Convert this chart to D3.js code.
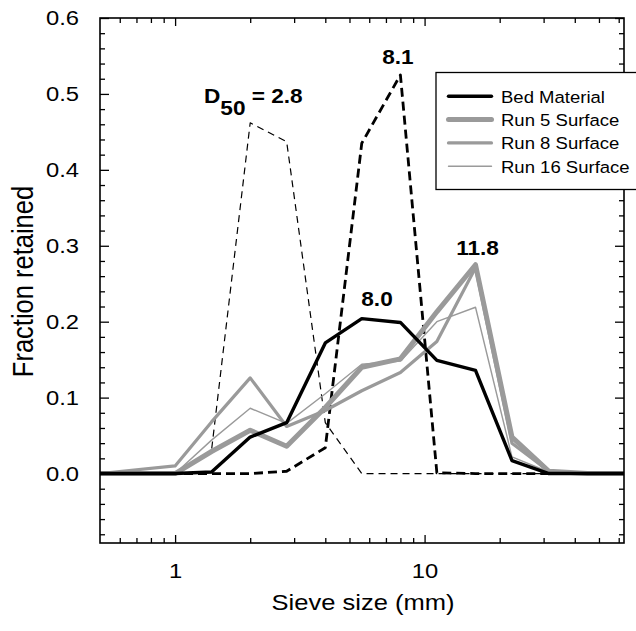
<!DOCTYPE html>
<html>
<head>
<meta charset="utf-8">
<script src="https://cdn.jsdelivr.net/npm/d3@7"></script>
<style>
  html, body { margin: 0; padding: 0; background: #fff; }
  svg { display: block; font-family: "Liberation Sans", Arial, Helvetica, sans-serif; }
</style>
</head>
<body>
<svg id="chart" width="636" height="631"></svg>
<script>
// Sieve sizes (mm) at which the fraction retained was measured
const sieveSizes = [0.5, 1, 1.4, 2, 2.8, 4, 5.6, 8, 11.2, 16, 22.4, 31.5, 45, 63];

// Fraction retained on each sieve
const bedMaterial = [0, 0, 0.002, 0.048, 0.067, 0.172, 0.204, 0.199, 0.149, 0.136, 0.017, 0.0, 0, 0];
const run5Surface = [0, 0, 0.029, 0.057, 0.036, 0.087, 0.140, 0.151, 0.213, 0.275, 0.048, 0.003, 0, 0];
const run8Surface = [0, 0.010, 0.068, 0.126, 0.062, 0.083, 0.109, 0.133, 0.174, 0.271, 0.040, 0.003, 0, 0];
const run16Surface = [0, 0, 0.044, 0.086, 0.066, 0.105, 0.144, 0.148, 0.200, 0.219, 0.022, 0.002, 0, 0];

// Feed mixtures shown as dashed reference curves
const fineFeed = [0, 0, 0.031, 0.462, 0.437, 0.067, 0, 0, 0, 0, 0, 0, 0, 0];
const coarseFeed = [0, 0, 0, 0, 0.003, 0.034, 0.435, 0.525, 0.001, 0, 0, 0, 0, 0];

// Legend entries and tick values
const legendLabels = ["Bed Material", "Run 5 Surface", "Run 8 Surface", "Run 16 Surface"];
const yTickValues = [0.0, 0.1, 0.2, 0.3, 0.4, 0.5, 0.6];
const xTickLabels = [1, 10];

// Median grain size (D50, mm) written above each distribution
const d50Fine = "2.8";
const d50Coarse = "8.1";
const d50Bed = "8.0";
const d50Run5 = "11.8";

const svg = d3.select("#chart");
const plot = { left: 100, right: 624, top: 18, bottom: 543 };
const WIDEN = 1.16; // horizontal widening applied to all lettering

const x = d3.scaleLog().domain([0.5, 63]).range([plot.left, plot.right]);
const y = d3.scaleLinear().domain([-0.0915, 0.6]).range([plot.bottom, plot.top]);

const clipId = "plot-clip";
svg.append("defs").append("clipPath").attr("id", clipId)
  .append("rect")
  .attr("x", plot.left).attr("y", plot.top)
  .attr("width", plot.right - plot.left).attr("height", plot.bottom - plot.top);

const line = d3.line()
  .x(d => x(d[0]))
  .y(d => y(d[1]));

const grey = "#9a9a9a";
const series = [
  { values: fineFeed, color: "#000", width: 1.2, dash: "7,5" },
  { values: coarseFeed, color: "#000", width: 2.8, dash: "9,5" },
  { values: run16Surface, color: grey, width: 1.4 },
  { values: run8Surface, color: grey, width: 3.2 },
  { values: run5Surface, color: grey, width: 5 },
  { values: bedMaterial, color: "#000", width: 3.4 }
];

const lines = svg.append("g").attr("clip-path", `url(#${clipId})`);
series.forEach(s => {
  lines.append("path")
    .datum(sieveSizes.map((sz, i) => [sz, s.values[i]]))
    .attr("d", line)
    .attr("fill", "none")
    .attr("stroke", s.color)
    .attr("stroke-width", s.width)
    .attr("stroke-linejoin", "round")
    .attr("stroke-dasharray", s.dash || null);
});

// Frame with inward ticks on all four sides
const axisG = svg.append("g");
const majorY = yTickValues;
const minorY = d3.range(-0.08, 0.6001, 0.02).filter(v => Math.abs(Math.round(v * 10) - v * 10) > 1e-6);
const majorX = xTickLabels;
const minorX = [0.6, 0.7, 0.8, 0.9, 2, 3, 4, 5, 6, 7, 8, 9, 20, 30, 40, 50, 60];

const yAxisL = d3.axisLeft(y).tickValues(majorY).tickSizeInner(-9).tickSizeOuter(0).tickPadding(21)
  .tickFormat(d3.format(".1f"));
const yAxisR = d3.axisRight(y).tickValues(majorY).tickSizeInner(-9).tickSizeOuter(0).tickFormat("");
const yMinorL = d3.axisLeft(y).tickValues(minorY).tickSizeInner(-5).tickSizeOuter(0).tickFormat("");
const yMinorR = d3.axisRight(y).tickValues(minorY).tickSizeInner(-5).tickSizeOuter(0).tickFormat("");
const xAxisB = d3.axisBottom(x).tickValues(majorX).tickSizeInner(-8).tickSizeOuter(0).tickPadding(20)
  .tickFormat(d3.format("d"));
const xAxisT = d3.axisTop(x).tickValues(majorX).tickSizeInner(-8).tickSizeOuter(0).tickFormat("");
const xMinorB = d3.axisBottom(x).tickValues(minorX).tickSizeInner(-5).tickSizeOuter(0).tickFormat("");
const xMinorT = d3.axisTop(x).tickValues(minorX).tickSizeInner(-5).tickSizeOuter(0).tickFormat("");

function place(axis, tx, ty) {
  const g = axisG.append("g").attr("transform", `translate(${tx},${ty})`).call(axis);
  g.select(".domain").remove();
  g.selectAll("line").attr("stroke", "#000").attr("stroke-width", 1.3);
  g.selectAll("text")
    .attr("fill", "#000").attr("font-size", 20.5)
    .attr("font-family", "'Liberation Sans', Arial, sans-serif")
    .attr("x", function () { return (+d3.select(this).attr("x") || 0) / WIDEN; })
    .attr("transform", `scale(${WIDEN},1)`);
  return g;
}
place(yAxisL, plot.left, 0);
place(yMinorL, plot.left, 0);
place(yAxisR, plot.right, 0);
place(yMinorR, plot.right, 0);
place(xAxisB, 0, plot.bottom);
place(xMinorB, 0, plot.bottom);
place(xAxisT, 0, plot.top);
place(xMinorT, 0, plot.top);

axisG.append("rect")
  .attr("x", plot.left).attr("y", plot.top)
  .attr("width", plot.right - plot.left).attr("height", plot.bottom - plot.top)
  .attr("fill", "none").attr("stroke", "#000").attr("stroke-width", 1.6);

// Text placed at (px, py) and widened horizontally
function label(parent, px, py, extra) {
  return parent.append("text")
    .attr("transform", `translate(${px},${py}) scale(${WIDEN},1)${extra || ""}`);
}

// Axis titles
label(svg, (plot.left + plot.right) / 2 + 1, 610)
  .attr("text-anchor", "middle").attr("font-size", 22)
  .text("Sieve size (mm)");
label(svg, 33, (plot.top + plot.bottom) / 2 + 1, " rotate(-90)")
  .attr("text-anchor", "middle").attr("font-size", 25.5)
  .text("Fraction retained");

// Median grain size annotations
const notes = svg.append("g").attr("font-weight", "bold").attr("font-size", 19.5).attr("text-anchor", "middle");
label(notes, 377, y(0.204) - 12.5).text(d50Bed);
label(notes, x(8) - 2.5, y(0.525) - 11).text(d50Coarse);
label(notes, x(16) + 2, y(0.275) - 10).text(d50Run5);
const d50 = label(notes, 204, 103).attr("text-anchor", "start");
d50.append("tspan").text("D");
d50.append("tspan").attr("dy", 12).text("50");
d50.append("tspan").attr("dy", -12).text(" = " + d50Fine);

// Legend
const legend = svg.append("g");
legend.append("rect")
  .attr("x", 436).attr("y", 72.5).attr("width", 210).attr("height", 117)
  .attr("fill", "#fff").attr("stroke", "#000").attr("stroke-width", 1.3);
const legendStyles = [
  { color: "#000", width: 3.4 },
  { color: grey, width: 5 },
  { color: grey, width: 3.2 },
  { color: grey, width: 1.4 }
];
legendLabels.forEach((name, i) => {
  const ly = 96.3 + i * 23.3;
  legend.append("line")
    .attr("x1", 448.5).attr("x2", 491.5).attr("y1", ly).attr("y2", ly)
    .attr("stroke", legendStyles[i].color).attr("stroke-width", legendStyles[i].width)
    .attr("stroke-linecap", "round");
  legend.append("text")
    .attr("transform", `translate(501,${ly + 6.5}) scale(1.09,1)`)
    .attr("font-size", 17)
    .text(name);
});
</script>
</body>
</html>
